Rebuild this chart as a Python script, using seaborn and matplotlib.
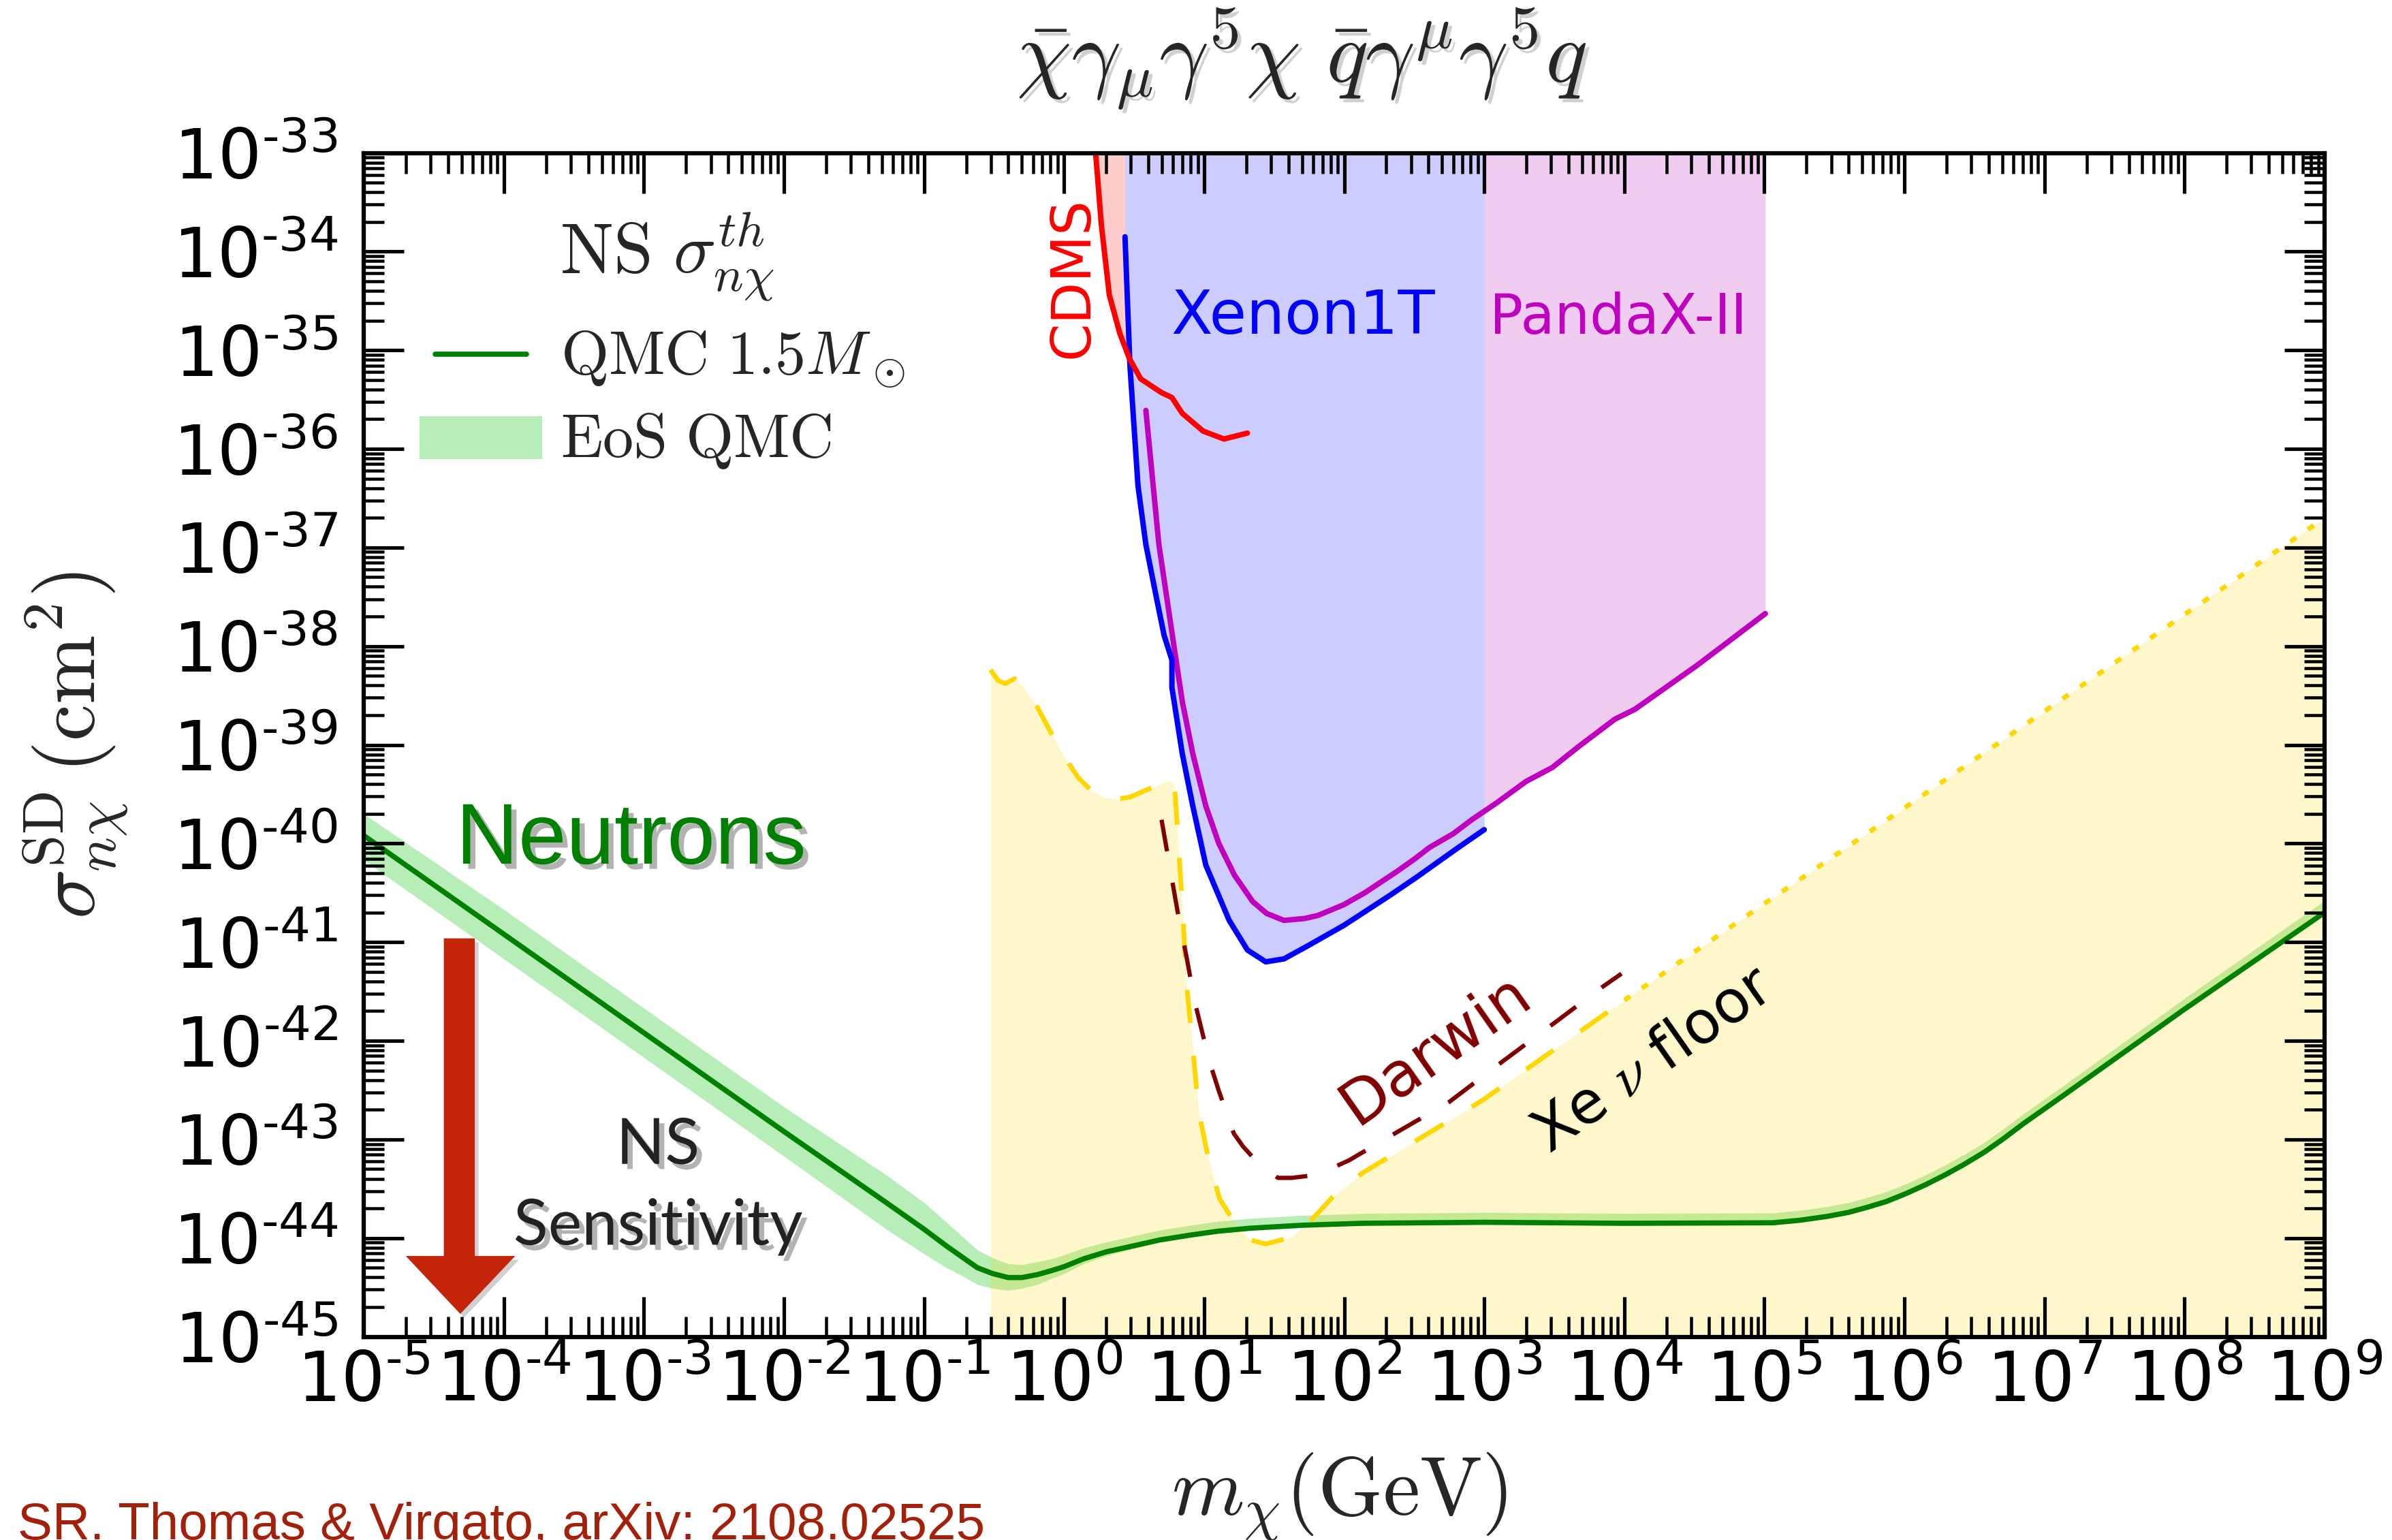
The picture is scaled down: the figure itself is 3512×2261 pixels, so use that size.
import numpy as np
import matplotlib
matplotlib.use("Agg")
import matplotlib.pyplot as plt
import matplotlib.patheffects as pe
from matplotlib.patches import Polygon, Rectangle
from matplotlib.lines import Line2D
from matplotlib.ticker import FixedLocator, FixedFormatter, LogLocator, NullFormatter
import seaborn as sns

# ---------------------------------------------------------------------------
# Data: log10(m_chi / GeV) and log10(sigma / cm^2)
# ---------------------------------------------------------------------------
# Neutron-star (QMC, 1.5 Msun) threshold cross section
qmc_logm = [-5.0, -4.0, -3.0, -2.0, -1.27, -1.0, -0.84, -0.73, -0.62, -0.51,
            -0.40, -0.30, -0.19, -0.09, 0.0, 0.14, 0.30, 0.46, 0.68, 0.90,
            1.10, 1.33, 1.70, 2.13, 3.0, 4.0, 5.06, 5.25, 5.45, 5.60,
            5.73, 5.87, 6.01, 6.15, 6.29, 6.43, 6.57, 6.71, 6.85, 7.0,
            7.13, 8.0, 9.0]
qmc_logsig = [-39.92, -40.92, -41.92, -42.92, -43.64, -43.91, -44.08, -44.19, -44.30, -44.36,
              -44.40, -44.40, -44.37, -44.33, -44.29, -44.21, -44.14, -44.09, -44.02, -43.97,
              -43.93, -43.90, -43.87, -43.85, -43.84, -43.85, -43.845, -43.82, -43.78, -43.74,
              -43.69, -43.63, -43.55, -43.46, -43.36, -43.25, -43.13, -42.99, -42.84, -42.69,
              -42.56, -41.68, -40.70]
# EoS uncertainty band (QMC)
eos_hi = [-39.70, -40.67, -41.67, -42.67, -43.36, -43.64, -43.84, -43.98, -44.12, -44.20,
          -44.26, -44.27, -44.24, -44.21, -44.17, -44.10, -44.04, -43.99, -43.92, -43.87,
          -43.83, -43.80, -43.77, -43.75, -43.74, -43.75, -43.745, -43.72, -43.68, -43.64,
          -43.59, -43.53, -43.45, -43.36, -43.26, -43.15, -43.03, -42.89, -42.74, -42.59,
          -42.46, -41.57, -40.58]
eos_lo = [-40.17, -41.17, -42.17, -43.17, -43.91, -44.16, -44.30, -44.38, -44.47, -44.51,
          -44.53, -44.51, -44.47, -44.41, -44.36, -44.26, -44.18, -44.12, -44.04, -43.99,
          -43.95, -43.92, -43.89, -43.87, -43.86, -43.87, -43.865, -43.84, -43.80, -43.76,
          -43.71, -43.65, -43.57, -43.48, -43.38, -43.27, -43.15, -43.01, -42.86, -42.71,
          -42.58, -41.70, -40.72]

# Xenon neutrino floor (dashed part, then dotted extrapolation)
nu_logm = [-0.525, -0.47, -0.421, -0.354, -0.30, -0.198, -0.10, -0.012, 0.100, 0.19,
           0.286, 0.38, 0.472, 0.584, 0.751, 0.788, 0.807, 0.85, 0.875, 0.92,
           0.96, 1.03, 1.11, 1.22, 1.33, 1.44, 1.625, 1.79, 1.92, 2.13,
           2.47, 2.98, 4.0]
nu_logsig = [-38.24, -38.35, -38.38, -38.33, -38.40, -38.60, -38.86, -39.09, -39.33, -39.46,
             -39.53, -39.55, -39.53, -39.46, -39.36, -39.41, -39.79, -40.77, -41.43, -42.08,
             -42.71, -43.19, -43.60, -43.85, -44.02, -44.06, -43.99, -43.78, -43.58, -43.34,
             -43.05, -42.61, -41.59]
nu_tail_logm = [4.0, 5.0, 6.0, 7.0, 8.0, 9.0]
nu_tail_logsig = [-41.59, -40.61, -39.64, -38.66, -37.68, -36.70]

# Xenon1T
xe_logm = [0.435, 0.47, 0.528, 0.584, 0.658, 0.714, 0.770, 0.770, 0.844, 0.919,
           1.012, 1.179, 1.309, 1.44, 1.57, 1.737, 1.998, 2.333, 2.519, 2.816, 3.0]
xe_logsig = [-33.85, -35.15, -36.38, -36.97, -37.50, -37.89, -38.14, -38.42, -39.09, -39.62,
             -40.22, -40.78, -41.08, -41.20, -41.17, -41.04, -40.83, -40.52, -40.34, -40.04, -39.86]

# CDMS
cdms_logm = [0.225, 0.267, 0.323, 0.398, 0.465, 0.547, 0.696, 0.770, 0.844, 0.993, 1.142, 1.309]
cdms_logsig = [-33.0, -33.74, -34.44, -34.83, -35.08, -35.29, -35.43, -35.48, -35.64, -35.82, -35.90, -35.84]

# PandaX-II
px_logm = [0.584, 0.677, 0.770, 0.844, 0.919, 1.012, 1.105, 1.216, 1.347, 1.447,
           1.570, 1.719, 1.812, 1.998, 2.147, 2.370, 2.50, 2.61, 2.78, 2.91,
           3.077, 3.30, 3.486, 3.672, 3.933, 4.076, 4.524, 5.007]
px_logsig = [-35.61, -36.97, -37.86, -38.56, -39.09, -39.62, -40.00, -40.32, -40.59, -40.71,
             -40.78, -40.76, -40.73, -40.62, -40.50, -40.29, -40.16, -40.04, -39.90, -39.76,
             -39.60, -39.37, -39.23, -39.02, -38.74, -38.64, -38.19, -37.67]

# Darwin projection
dw_logm = [0.696, 0.75, 0.808, 0.881, 0.929, 0.984, 1.038, 1.103, 1.179, 1.212,
           1.277, 1.36, 1.44, 1.527, 1.625, 1.74, 1.853, 2.037, 2.30, 2.75,
           3.14, 3.50, 3.848, 3.98]
dw_logsig = [-39.76, -40.20, -40.67, -41.20, -41.58, -41.90, -42.21, -42.50, -42.81, -42.94,
             -43.07, -43.20, -43.30, -43.39, -43.39, -43.37, -43.33, -43.21, -42.99, -42.62,
             -42.20, -41.82, -41.45, -41.32]

# Axis decades
x_exponents = list(range(-5, 10))
y_exponents = list(range(-45, -32))

# ---------------------------------------------------------------------------
sns.set_theme(style="ticks", rc={"axes.edgecolor": "black", "xtick.color": "black",
                                 "ytick.color": "black"})
plt.rcParams["font.family"] = ["DejaVu Sans"]
plt.rcParams["mathtext.fontset"] = "cm"


def p10(a):
    return 10.0 ** np.asarray(a, dtype=float)


fig = plt.figure(figsize=(14.048, 9.044), dpi=250)
ax = fig.add_axes([0.1521, 0.1320, 0.8197, 0.7687])
ax.set_xscale("log")
ax.set_yscale("log")

TOP = 1e-33
FLOOR = 1e-46

# Excluded regions (filled above the limit curves)
ax.fill_between(p10(px_logm), p10(px_logsig), TOP, color="#F1CCF1", lw=0, zorder=1.0)
ax.fill_between(p10(cdms_logm), p10(cdms_logsig), TOP, color="#FFCCCC", lw=0, zorder=1.1)
ax.fill_between(p10(xe_logm), p10(xe_logsig), TOP, color="#CCCCFF", lw=0, zorder=1.2)

# EoS band
ax.fill_between(p10(qmc_logm), p10(eos_lo), p10(eos_hi), color="limegreen",
                alpha=0.35, lw=0, zorder=2)

# Neutrino floor region
floor_m = p10(nu_logm + nu_tail_logm[1:])
floor_s = p10(nu_logsig + nu_tail_logsig[1:])
ax.fill_between(floor_m, floor_s, FLOOR, color="gold", alpha=0.2, lw=0, zorder=3)

line_kw = dict(ax=ax, estimator=None, sort=False, legend=False)

sns.lineplot(x=p10(nu_logm), y=p10(nu_logsig), color="gold", lw=2.0, zorder=4, **line_kw)
ax.lines[-1].set_linestyle((0, (7, 7)))
sns.lineplot(x=p10(nu_tail_logm), y=p10(nu_tail_logsig), color="gold", lw=2.0, zorder=4, **line_kw)
ax.lines[-1].set_linestyle((0, (1.5, 3)))

sns.lineplot(x=p10(dw_logm), y=p10(dw_logsig), color="#800000", lw=1.8, zorder=4, **line_kw)
ax.lines[-1].set_linestyle((0, (7.5, 7.5)))

sns.lineplot(x=p10(xe_logm), y=p10(xe_logsig), color="blue", lw=2.3, zorder=4.2, **line_kw)
sns.lineplot(x=p10(cdms_logm), y=p10(cdms_logsig), color="red", lw=2.3, zorder=4.2, **line_kw)
sns.lineplot(x=p10(px_logm), y=p10(px_logsig), color="#BF00BF", lw=2.3, zorder=4.1, **line_kw)
sns.lineplot(x=p10(qmc_logm), y=p10(qmc_logsig), color="#008000", lw=2.2, zorder=5, **line_kw)

# Axes limits, ticks
ax.set_xlim(1e-5, 1e9)
ax.set_ylim(1e-45, 1e-33)


def exp_label(e):
    s = ("\u2010" + str(-e)) if e < 0 else str(e)
    return r"$\mathregular{10^{" + s + r"}}$"


ax.xaxis.set_major_locator(FixedLocator(p10(x_exponents)))
ax.xaxis.set_major_formatter(FixedFormatter([exp_label(e) for e in x_exponents]))
ax.yaxis.set_major_locator(FixedLocator(p10(y_exponents)))
ax.yaxis.set_major_formatter(FixedFormatter([exp_label(e) for e in y_exponents]))
for axis in (ax.xaxis, ax.yaxis):
    axis.set_minor_locator(LogLocator(base=10, subs=np.arange(2, 10), numticks=200))
    axis.set_minor_formatter(NullFormatter())
    axis.set_zorder(10)

ax.tick_params(which="major", direction="in", length=17, width=1.5, top=True, right=True,
               labelsize=29)
ax.tick_params(which="minor", direction="in", length=8.5, width=1.3, top=True, right=True)
ax.tick_params(axis="y", which="major", pad=11)
ax.tick_params(axis="x", which="major", pad=5)
for s in ax.spines.values():
    s.set_linewidth(1.8)
    s.set_zorder(10)

ax.set_ylabel(r"$\sigma^{\rm SD}_{n\chi}\,(\rm cm^2)$", fontsize=35)
ax.yaxis.set_label_coords(-0.119, 0.5)
ax.set_xlabel(r"$m_\chi(\rm GeV)$", fontsize=35)
ax.xaxis.set_label_coords(0.4974, -0.151)
ax.xaxis.label.set_va("baseline")

shadow = [pe.withSimplePatchShadow(offset=(2.2, -2.2), shadow_rgbFace="0.25", alpha=0.4)]
soft_shadow = [pe.withSimplePatchShadow(offset=(1.6, -1.6), shadow_rgbFace="0.4", alpha=0.3)]

fig.text(0.5443, 0.947, r"$\bar{\chi}\gamma_\mu\gamma^5\chi\ \bar{q}\gamma^\mu\gamma^5q$",
         ha="center", va="baseline", fontsize=37, path_effects=soft_shadow)

# Legend
ax.text(0.100, 0.8987, r"$\mathrm{NS}\ \sigma_{n\chi}^{th}$", fontsize=30,
        transform=ax.transAxes, ha="left", va="baseline")
ax.add_line(Line2D([0.0365, 0.0830], [0.830, 0.830], transform=ax.transAxes,
                   color="#008000", lw=2.2, zorder=6))
ax.text(0.1002, 0.8136, r"$\mathrm{QMC}\ 1.5M_\odot$", fontsize=26,
        transform=ax.transAxes, ha="left", va="baseline")
ax.add_patch(Rectangle((0.0285, 0.7411), 0.0625, 0.0367, transform=ax.transAxes,
                       facecolor="limegreen", alpha=0.35, lw=0, zorder=6))
ax.text(0.1002, 0.7431, r"$\mathrm{EoS\ QMC}$", fontsize=26,
        transform=ax.transAxes, ha="left", va="baseline")

# Region labels
ax.text(0.3616, 0.8944, "CDMS", rotation=90, ha="center", va="center", fontsize=23,
        color="red", transform=ax.transAxes, zorder=7)
ax.text(0.4116, 0.8472, "Xenon1T", fontsize=25.5, color="blue", va="baseline",
        transform=ax.transAxes, zorder=7)
ax.text(0.5742, 0.8472, "PandaX-II", fontsize=23.5, color="#BF00BF", va="baseline",
        transform=ax.transAxes, zorder=7)
ax.text(0.5515, 0.2304, "Darwin", rotation=35, rotation_mode="anchor", ha="center",
        va="baseline", fontsize=26, color="#800000", transform=ax.transAxes, zorder=7)
ax.text(0.6627, 0.2215, r"Xe $\nu$ floor", rotation=35, rotation_mode="anchor",
        ha="center", va="baseline", fontsize=25, color="black", transform=ax.transAxes,
        zorder=7)
ax.text(0.0470, 0.3996, "Neutrons", fontsize=36.5, family="Liberation Sans",
        color="#008000", va="baseline", transform=ax.transAxes, path_effects=shadow,
        zorder=7)
ax.text(0.150, 0.146, "NS", fontsize=27, family="Lato", color="#222222", ha="center",
        va="baseline", transform=ax.transAxes, path_effects=shadow, zorder=7)
ax.text(0.150, 0.0777, "Sensitivity", fontsize=27, family="Lato", color="#222222",
        ha="center", va="baseline", transform=ax.transAxes, path_effects=shadow, zorder=7)

# Sensitivity arrow
arrow = Polygon([(0.0408, 0.3365), (0.0566, 0.3365), (0.0566, 0.0682), (0.0772, 0.0682),
                 (0.0492, 0.0193), (0.0214, 0.0682), (0.0408, 0.0682)],
                closed=True, transform=ax.transAxes, facecolor="#C42508", edgecolor="none",
                zorder=7, path_effects=soft_shadow)
ax.add_patch(arrow)

fig.text(0.0073, 0.0004, "SR. Thomas & Virgato, arXiv: 2108.02525", fontsize=22,
         family="Liberation Sans", color="#A3200A", ha="left", va="baseline")

fig.savefig("out.png", dpi=250)
